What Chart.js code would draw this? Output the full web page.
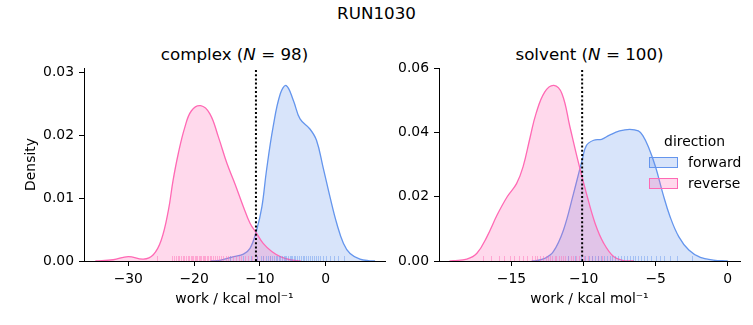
<!DOCTYPE html>
<html>
<head>
<meta charset="utf-8">
<script src="https://cdn.jsdelivr.net/npm/chart.js@4"></script>
<style>
  body { margin: 0; background: #fff; font-family: "DejaVu Sans", sans-serif; }
  #fig { position: relative; width: 753px; height: 325px; overflow: hidden; }
  canvas { position: absolute; }
  .txt { position: absolute; white-space: nowrap; color: #000; transform: translate(-50%, -50%); }
  .big { font-size: 16.7px; }
  .leg { position: absolute; white-space: nowrap; font-size: 13.9px; color: #000; transform: translateY(-50%); }
  .patch { position: absolute; width: 27px; height: 9px; box-sizing: content-box; }
</style>
</head>
<body>
<div id="fig">
  <div class="txt big" style="left:376.5px; top:13px;">RUN1030</div>
  <div class="txt big" style="left:234.5px; top:54px;">complex (<i>N</i> = 98)</div>
  <div class="txt big" style="left:589.5px; top:54px;">solvent (<i>N</i> = 100)</div>

  <canvas id="complexChart" width="395" height="285" style="left:0; top:40px;"></canvas>
  <canvas id="solventChart" width="358" height="285" style="left:395px; top:40px;"></canvas>

  <div class="txt" style="left:694.5px; top:141px; font-size:13.9px;">direction</div>
  <div class="patch" style="left:649px; top:157px; border:1px solid #6495ED; background:rgba(100,149,237,0.25);"></div>
  <div class="leg" style="left:688px; top:162px;">forward</div>
  <div class="patch" style="left:649px; top:178px; border:1px solid #FF69B4; background:rgba(255,105,180,0.25);"></div>
  <div class="leg" style="left:688px; top:183px;">reverse</div>
</div>

<script>
// complex leg: KDE curves
const complexForwardX = [-17.5, -16.1, -14.0, -12.5, -11.5, -10.5, -9.7, -9.0, -8.0, -6.9, -6.0, -4.9, -3.9, -2.4, -1.4, -0.4, 0.65, 1.67, 2.7, 3.7, 5.2, 6.7, 7.5];
const complexForwardY = [0, 0.0001, 0.0007, 0.0011, 0.002, 0.0049, 0.0086, 0.0144, 0.0213, 0.0266, 0.0279, 0.0255, 0.0226, 0.021, 0.0192, 0.0149, 0.0102, 0.006, 0.0028, 0.0012, 0.0003, 0.00003, 0];
const complexReverseX = [-35.0, -32.3, -30.0, -27.7, -26.2, -25.0, -23.9, -23.2, -22.4, -21.4, -20.4, -19.0, -17.6, -16.3, -15.0, -13.8, -12.5, -11.5, -10.5, -9.5, -8.2, -6.9, -5.4, -3.8];
const complexReverseY = [0, 0.0002, 0.0007, 0.0003, 0.001, 0.0033, 0.0081, 0.0128, 0.0171, 0.0213, 0.0239, 0.0247, 0.0234, 0.0197, 0.0155, 0.0123, 0.0086, 0.006, 0.0044, 0.0028, 0.0015, 0.0007, 0.0002, 0];

// solvent leg
const solventForwardX = [-13.6, -13.3, -12.7, -12.1, -11.4, -10.7, -10.1, -9.8, -9.3, -8.75, -8.2, -7.5, -6.8, -6.2, -5.9, -5.5, -5.0, -4.5, -4.0, -3.4, -2.7, -1.9, -1.0, 0.0];
const solventForwardY = [0, 0.0001, 0.0008, 0.0029, 0.0096, 0.021, 0.0314, 0.036, 0.0376, 0.0379, 0.0392, 0.0405, 0.041, 0.0405, 0.0391, 0.0355, 0.0292, 0.021, 0.0138, 0.0076, 0.0034, 0.0011, 0.0003, 0];
const solventReverseX = [-19.3, -19.05, -18.1, -17.4, -16.7, -16.0, -15.3, -14.65, -14.2, -13.7, -13.3, -12.7, -12.06, -11.5, -10.95, -10.4, -9.8, -9.2, -8.6, -7.9, -7.2, -6.5];
const solventReverseY = [0, 0.0001, 0.0006, 0.0024, 0.0076, 0.0143, 0.02, 0.0241, 0.0293, 0.0387, 0.0459, 0.0526, 0.0547, 0.0521, 0.0418, 0.0314, 0.021, 0.0117, 0.0055, 0.0013, 0.0001, 0];

// rug samples
const complexRugForward = [-14.5, -12.6, -11.3, -10.4, -9.9, -9.5, -9.1, -8.8, -8.5, -8.2, -7.9, -7.6, -7.4, -7.1, -6.9, -6.6, -6.4, -6.2, -6.0, -5.8, -5.5, -5.3, -5.1, -4.8, -4.6, -4.3, -4.1, -3.8, -3.5, -3.3, -3.0, -2.7, -2.4, -2.1, -1.8, -1.5, -1.2, -0.8, -0.4, 0.1, 0.6, 1.2, 1.9, 2.8];
const complexRugReverse = [-25.6, -23.4, -23.1, -22.8, -22.5, -22.3, -22.0, -21.7, -21.5, -21.2, -21.0, -20.8, -20.5, -20.3, -20.1, -19.9, -19.7, -19.5, -19.3, -19.1, -18.9, -18.7, -18.5, -18.3, -18.1, -17.9, -17.6, -17.4, -17.1, -16.8, -16.5, -16.2, -15.9, -15.6, -15.2, -14.9, -14.5, -14.1, -13.7, -13.2, -12.8, -12.3, -11.8, -11.2, -10.5, -9.6, -8.4];
const solventRugForward = [-11.1, -10.6, -10.2, -9.9, -9.6, -9.4, -9.2, -9.0, -8.8, -8.6, -8.4, -8.2, -8.0, -7.8, -7.6, -7.4, -7.2, -7.0, -6.8, -6.6, -6.4, -6.2, -6.0, -5.8, -5.6, -5.3, -5.0, -4.7, -4.4, -4.0, -3.5, -2.5];
const solventRugReverse = [-17.0, -16.4, -15.9, -15.5, -15.1, -14.8, -14.5, -14.2, -13.9, -13.6, -13.4, -13.2, -13.0, -12.8, -12.6, -12.5, -12.3, -12.2, -12.0, -11.9, -11.7, -11.6, -11.4, -11.3, -11.1, -10.9, -10.7, -10.5, -10.3, -10.0, -9.7, -9.4, -9.0, -8.7];

// dotted reference lines
const complexMarker = -10.6;
const solventMarker = -10.1;

// axes
const complexXRange = [-36.73, 9.01];
const complexYMax = 0.0307;
const complexXTicks = [-30, -20, -10, 0];
const complexYTicks = [0, 0.01, 0.02, 0.03];
const solventXRange = [-20.03, 0.85];
const solventYMax = 0.0601;
const solventXTicks = [-15, -10, -5, 0];
const solventYTicks = [0, 0.02, 0.04, 0.06];

const BLUE = '#6495ED';
const PINK = '#FF69B4';
const FONT = 'DejaVu Sans';

function pts(xs, ys) {
  return xs.map((x, i) => ({ x: x, y: ys[i] }));
}

function makeRug(sets) {
  return {
    id: 'rug',
    afterDatasetsDraw(chart) {
      const { ctx, chartArea, scales } = chart;
      ctx.save();
      ctx.lineWidth = 1;
      sets.forEach(s => {
        ctx.strokeStyle = s.color;
        s.values.forEach(v => {
          const px = Math.round(scales.x.getPixelForValue(v)) + 0.5;
          ctx.beginPath();
          ctx.moveTo(px, chartArea.bottom);
          ctx.lineTo(px, chartArea.bottom - 5);
          ctx.stroke();
        });
      });
      ctx.restore();
    }
  };
}

function minusFmt(v) {
  return v < 0 ? '\u2212' + Math.abs(v) : String(v);
}

function kde(label, data, color, fill, order) {
  return {
    label: label,
    data: data,
    borderColor: color,
    backgroundColor: fill,
    borderWidth: 1.3,
    fill: 'origin',
    pointRadius: 0,
    tension: 0.4,
    order: order
  };
}

function makeChart(id, cfg) {
  new Chart(document.getElementById(id), {
    type: 'line',
    data: {
      datasets: [
        {
          label: 'marker',
          data: [{ x: cfg.marker, y: 0 }, { x: cfg.marker, y: cfg.yMax }],
          borderColor: '#000',
          borderWidth: 2,
          borderDash: [2, 2.2],
          pointRadius: 0,
          fill: false,
          order: 0
        },
        kde('reverse', pts(cfg.revX, cfg.revY), PINK, 'rgba(255,105,180,0.25)', 1),
        kde('forward', pts(cfg.fwdX, cfg.fwdY), BLUE, 'rgba(100,149,237,0.25)', 2)
      ]
    },
    options: {
      responsive: false,
      animation: false,
      layout: { padding: { left: 0, top: 28, right: cfg.padRight, bottom: 0 } },
      plugins: { legend: { display: false }, tooltip: { enabled: false } },
      scales: {
        x: {
          type: 'linear',
          min: cfg.xRange[0],
          max: cfg.xRange[1],
          afterBuildTicks: s => { s.ticks = cfg.xTicks.map(v => ({ value: v })); },
          afterFit: s => { s.height = 64; },
          ticks: { color: '#000', padding: 5, maxRotation: 0, font: { family: FONT, size: 13.9 }, callback: v => minusFmt(v) },
          grid: { display: true, drawOnChartArea: false, drawTicks: true, tickLength: 5, color: '#000' },
          border: { display: true, color: '#000', width: 1 },
          title: { display: true, text: 'work / kcal mol\u207B\u00B9', color: '#000', font: { family: FONT, size: 13.9 }, padding: { top: 0, bottom: 17.7 } }
        },
        y: {
          type: 'linear',
          min: 0,
          max: cfg.yMax,
          afterBuildTicks: s => { s.ticks = cfg.yTicks.map(v => ({ value: v })); },
          afterFit: s => { s.width = cfg.yWidth; },
          ticks: { color: '#000', padding: 5, font: { family: FONT, size: 13.9 }, callback: v => v.toFixed(2) },
          grid: { display: true, drawOnChartArea: false, drawTicks: true, tickLength: 5, color: '#000' },
          border: { display: true, color: '#000', width: 1 },
          title: { display: cfg.yTitle, text: 'Density', color: '#000', font: { family: FONT, size: 13.9 }, padding: { top: 22.7, bottom: 0 } }
        }
      }
    },
    plugins: [makeRug([
      { values: cfg.rugRev, color: 'rgba(255,105,180,0.45)' },
      { values: cfg.rugFwd, color: 'rgba(100,149,237,0.45)' }
    ])]
  });
}

makeChart('complexChart', {
  fwdX: complexForwardX, fwdY: complexForwardY,
  revX: complexReverseX, revY: complexReverseY,
  rugFwd: complexRugForward, rugRev: complexRugReverse,
  marker: complexMarker,
  xRange: complexXRange, yMax: complexYMax,
  xTicks: complexXTicks, yTicks: complexYTicks,
  yWidth: 84, padRight: 10, yTitle: true
});

makeChart('solventChart', {
  fwdX: solventForwardX, fwdY: solventForwardY,
  revX: solventReverseX, revY: solventReverseY,
  rugFwd: solventRugForward, rugRev: solventRugReverse,
  marker: solventMarker,
  xRange: solventXRange, yMax: solventYMax,
  xTicks: solventXTicks, yTicks: solventYTicks,
  yWidth: 44, padRight: 13, yTitle: false
});
</script>
</body>
</html>
